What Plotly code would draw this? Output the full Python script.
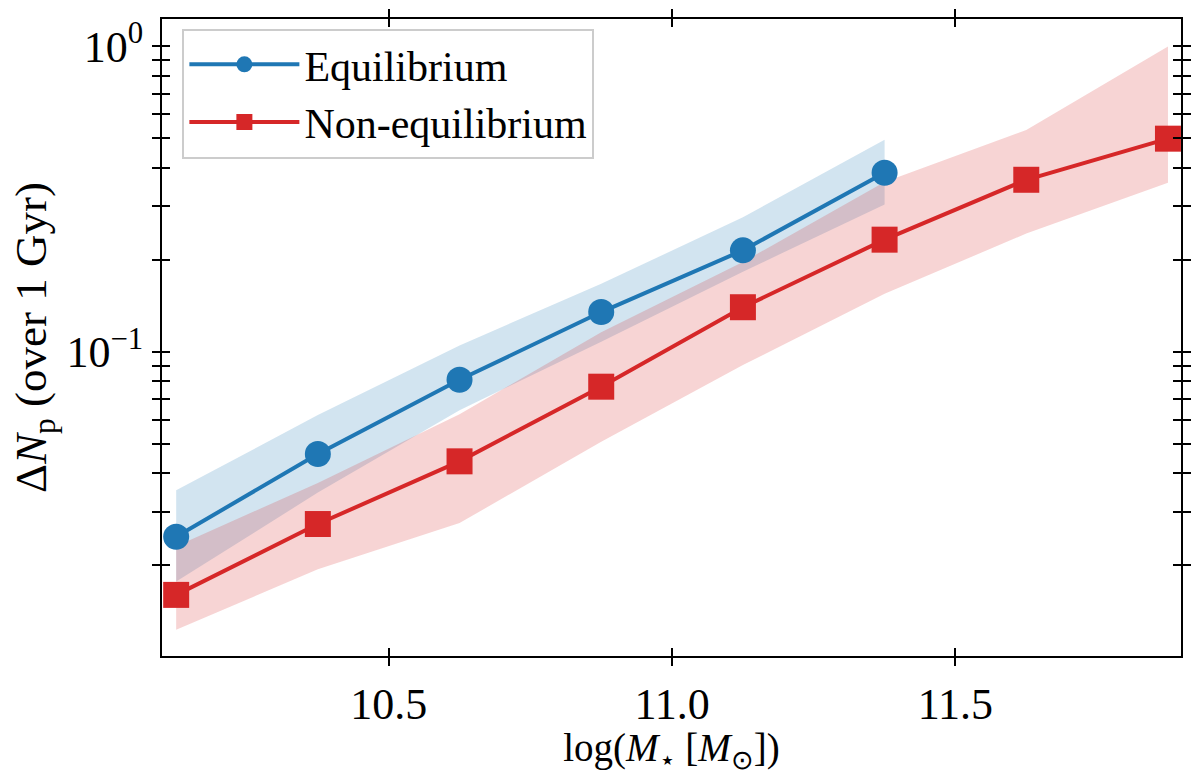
import plotly.graph_objects as go

# ---- data ----
x_bins = [10.125, 10.375, 10.625, 10.875, 11.125, 11.375, 11.625, 11.875]

eq_x = x_bins[:6]
eq_val = [0.0248, 0.0463, 0.081, 0.135, 0.215, 0.386]
eq_lo = [0.0177, 0.0346, 0.0644, 0.108, 0.183, 0.304]
eq_hi = [0.0352, 0.0621, 0.105, 0.167, 0.276, 0.495]

neq_x = x_bins
neq_val = [0.0160, 0.0273, 0.0438, 0.0769, 0.140, 0.233, 0.366, 0.499]
neq_lo = [0.0123, 0.0194, 0.0275, 0.0508, 0.0905, 0.155, 0.244, 0.358]
neq_hi = [0.0231, 0.0372, 0.0625, 0.116, 0.197, 0.360, 0.533, 1.0]

x_ticks = [10.5, 11.0, 11.5]
x_ticktext = ["10.5", "11.0", "11.5"]
y_ticks = [0.1, 1.0]
y_ticktext = ["10<sup>−1</sup>", "10<sup>0</sup>"]
y_minor = [0.02, 0.03, 0.04, 0.05, 0.06, 0.07, 0.08, 0.09,
           0.2, 0.3, 0.4, 0.5, 0.6, 0.7, 0.8, 0.9]

BLUE = "#1f77b4"
RED = "#d62728"
FONT = "Liberation Serif"

fig = go.Figure()

# bands
fig.add_trace(go.Scatter(
    x=eq_x + eq_x[::-1], y=eq_hi + eq_lo[::-1], fill="toself",
    fillcolor="rgba(31,119,180,0.2)", line=dict(width=0), mode="lines",
    showlegend=False, hoverinfo="skip"))
fig.add_trace(go.Scatter(
    x=neq_x + neq_x[::-1], y=neq_hi + neq_lo[::-1], fill="toself",
    fillcolor="rgba(214,39,40,0.2)", line=dict(width=0), mode="lines",
    showlegend=False, hoverinfo="skip"))

# lines
fig.add_trace(go.Scatter(
    x=eq_x, y=eq_val, mode="lines+markers", name="Equilibrium",
    line=dict(color=BLUE, width=4),
    marker=dict(symbol="circle", size=26, color=BLUE)))
fig.add_trace(go.Scatter(
    x=neq_x, y=neq_val, mode="lines+markers", name="Non-equilibrium",
    line=dict(color=RED, width=4),
    marker=dict(symbol="square", size=26, color=RED)))

# dummy trace for overlay axes (inside ticks)
fig.add_trace(go.Scatter(
    x=x_bins, y=neq_val, xaxis="x2", yaxis="y2", mode="markers",
    marker=dict(opacity=0), showlegend=False, hoverinfo="skip"))

xr = [10.1, 11.898]
yr = [-1.996, 0.09]

axis_common = dict(showgrid=False, zeroline=False, ticklen=8, tickwidth=2,
                   tickcolor="black")

fig.update_layout(
    width=1200, height=775,
    margin=dict(l=162, r=10, t=9, b=117),
    paper_bgcolor="white", plot_bgcolor="white",
    font=dict(family=FONT, size=42, color="black"),
    xaxis=dict(range=xr, tickvals=x_ticks, ticktext=x_ticktext,
               ticks="outside", mirror="allticks", showline=True,
               linecolor="black", linewidth=2,
               title=dict(text="log(<i>M</i><sub>⋆</sub> [<i>M</i><sub>⊙</sub>])",
                          standoff=10, font=dict(size=39)),
               tickfont=dict(size=44), **axis_common),
    yaxis=dict(type="log", range=yr, tickvals=y_ticks, ticktext=y_ticktext,
               ticks="outside", mirror="allticks", showline=True,
               linecolor="black", linewidth=2,
               minor=dict(tickvals=y_minor, ticks="outside", ticklen=8,
                          tickwidth=2, tickcolor="black"),
               title=dict(text="Δ<i>N</i><sub>p</sub> (over 1 Gyr)",
                          standoff=6, font=dict(size=45)),
               tickfont=dict(size=44), **axis_common),
    xaxis2=dict(range=xr, overlaying="x", anchor="y2", tickvals=x_ticks,
                ticks="inside", mirror="allticks", showline=False,
                showticklabels=False, **axis_common),
    yaxis2=dict(type="log", range=yr, overlaying="y", anchor="x2",
                tickvals=y_ticks, ticks="inside", mirror="allticks",
                showline=False, showticklabels=False,
                minor=dict(tickvals=y_minor, ticks="inside", ticklen=8,
                           tickwidth=2, tickcolor="black"),
                **axis_common),
    legend=dict(x=0.02, y=0.985, xanchor="left", yanchor="top",
                bgcolor="rgba(255,255,255,0.8)", bordercolor="#cccccc",
                borderwidth=2, font=dict(size=42, family=FONT),
                itemwidth=110),
)

fig.write_html("out.html")
